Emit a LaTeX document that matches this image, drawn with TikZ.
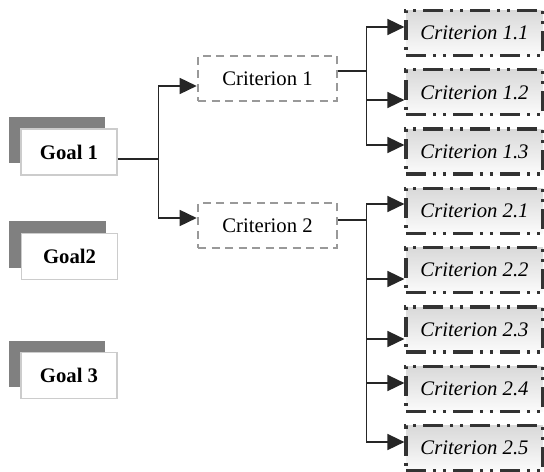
\documentclass[tikz,border=0pt]{standalone}
\usepackage{fontspec}
\setmainfont{Liberation Serif}
\usepackage{xcolor}
\usepackage{tikz}
\usetikzlibrary{arrows.meta,shadows}

\begin{document}
\begin{tikzpicture}[x=1bp, y=-1bp, node distance=59.3bp,
    goalbox/.style={rectangle, draw=gray!40, line width=1.2bp, fill=white,
        minimum width=96bp, minimum height=46bp,
        general shadow={fill=black!50, shadow xshift=-12bp, shadow yshift=12bp},
        font=\fontsize{20.7bp}{24bp}\selectfont\bfseries},
    critbox/.style={rectangle, draw=gray!80, line width=2.6bp, dash pattern=on 8bp off 5.5bp,
        minimum width=139bp, minimum height=45bp,
        font=\fontsize{20.7bp}{24bp}\selectfont},
    subbox/.style={rectangle, draw=black!80, line width=3.2bp,
        dash pattern=on 20bp off 7bp on 3bp off 7bp on 3bp off 7bp,
        top color=gray!30, bottom color=gray!3,
        minimum width=137bp, minimum height=45bp,
        font=\fontsize{20.7bp}{24bp}\selectfont\itshape},
    line/.style={draw=black!85, line width=1.6bp},
    arrow/.style={line, -{Triangle[length=17bp,width=16bp]}}]
    \useasboundingbox (0,0) rectangle (544,472);

    \node[goalbox] (goal1) at (69,152) {Goal 1};
    \node[goalbox] (goal2) at (69.5,256.5) {Goal2};
    \node[goalbox] (goal3) at (69,375.5) {Goal 3};

    \node[critbox] (crit1) at (267.5,78.5) {Criterion 1};
    \node[critbox] (crit2) at (267.5,225.5) {Criterion 2};

    \node[subbox] (c11) at (474.5,33) {Criterion 1.1};
    \node[subbox, below of=c11] (c12) {Criterion 1.2};
    \node[subbox, below of=c12] (c13) {Criterion 1.3};
    \node[subbox, below of=c13] (c21) {Criterion 2.1};
    \node[subbox, below of=c21] (c22) {Criterion 2.2};
    \node[subbox, below of=c22] (c23) {Criterion 2.3};
    \node[subbox, below of=c23] (c24) {Criterion 2.4};
    \node[subbox, below of=c24] (c25) {Criterion 2.5};

    % goal to criteria
    \draw[line] ([yshift=-7bp]goal1.east) -- ++(41,0) coordinate (split0);
    \draw[arrow] (split0) |- ([yshift=-7.5bp]crit1.west);
    \draw[arrow] (split0) |- ([yshift=7.5bp]crit2.west);

    % criterion 1 to sub-criteria
    \draw[line] ([yshift=7.5bp]crit1.east) -- ++(28,0) coordinate (split1);
    \draw[arrow] (split1) |- ([yshift=6bp]c11.west);
    \draw[arrow] (split1) |- ([yshift=-7.7bp]c12.west);
    \draw[arrow] (split1) |- ([yshift=6.6bp]c13.west);

    % criterion 2 to sub-criteria
    \draw[line] ([yshift=5.5bp]crit2.east) -- ++(28,0) coordinate (split2);
    \draw[arrow] (split2) |- ([yshift=6.9bp]c21.west);
    \draw[arrow] (split2) |- ([yshift=-8.8bp]c22.west);
    \draw[arrow] (split2) |- ([yshift=-9.5bp]c23.west);
    \draw[arrow] (split2) |- ([yshift=5.8bp]c24.west);
    \draw[arrow] (split2) |- ([yshift=6.1bp]c25.west);
\end{tikzpicture}
\end{document}
